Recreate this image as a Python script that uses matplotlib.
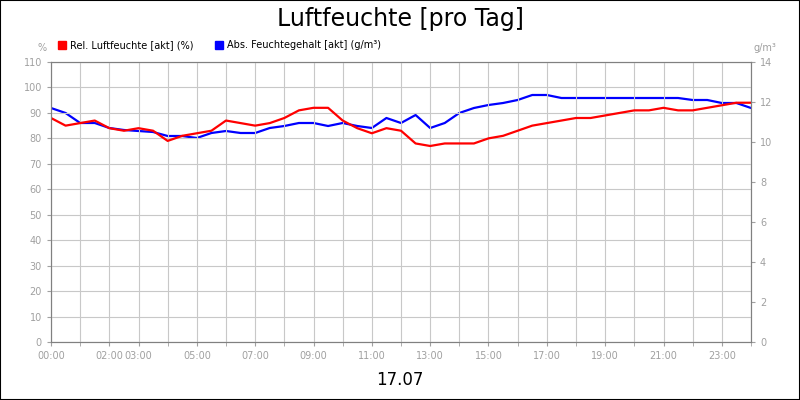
import matplotlib
matplotlib.use("Agg")
import matplotlib.pyplot as plt
from matplotlib.patches import Rectangle

hours = [i*0.5 for i in range(49)]
rel = [88,85,86,87,84,83,84,83,79,81,82,83,87,86,85,86,88,91,92,92,87,84,82,84,83,78,77,78,78,78,80,81,83,85,86,87,88,88,89,90,91,91,92,91,91,92,93,94,94]
absf = [11.7,11.45,10.95,10.95,10.7,10.6,10.55,10.5,10.3,10.3,10.2,10.45,10.55,10.45,10.45,10.7,10.8,10.95,10.95,10.8,10.95,10.8,10.7,11.2,10.95,11.35,10.7,10.95,11.45,11.7,11.85,11.95,12.1,12.35,12.35,12.2,12.2,12.2,12.2,12.2,12.2,12.2,12.2,12.2,12.1,12.1,11.95,11.95,11.7]
xticks = [0,2,3,5,7,9,11,13,15,17,19,21,23]
xlabels = ["00:00","02:00","03:00","05:00","07:00","09:00","11:00","13:00","15:00","17:00","19:00","21:00","23:00"]

fig = plt.figure(figsize=(8,4), dpi=100)
fig.patches.append(Rectangle((0,0),1,1,transform=fig.transFigure,fill=False,edgecolor='black',lw=1.5))
ax = fig.add_axes([51/800, 58/400, 700/800, 280/400])
ax.plot(hours, rel, color='#ff0000', lw=1.6)
ax.set_xlim(0,24); ax.set_ylim(0,110)
ax.set_yticks(range(0,111,10))
ax.set_xticks(xticks)
ax.set_xticklabels(xlabels)
ax.set_xticks(range(25), minor=True)
ax.grid(True, which='both', color='#c8c8c8', lw=0.8)
ax.tick_params(colors='#a0a0a0', labelsize=7, length=3)
ax.tick_params(which='minor', length=3, color='#a0a0a0')
for s in ax.spines.values(): s.set_color('#808080')
ax2 = ax.twinx()
ax2.plot(hours, absf, color='#0000ff', lw=1.6)
ax2.set_ylim(0,14); ax2.set_yticks(range(0,15,2))
ax2.tick_params(colors='#a0a0a0', labelsize=7, length=3)
for s in ax2.spines.values(): s.set_color('#808080')
ax.set_zorder(ax2.get_zorder()+1); ax.patch.set_visible(False)

fig.text(0.5, 0.953, "Luftfeuchte [pro Tag]", ha='center', va='center', fontsize=17)
fig.text(0.5, 0.05, "17.07", ha='center', va='center', fontsize=12)
fig.text(42/800, 1-48/400, "%", ha='center', va='center', fontsize=7, color='#a0a0a0')
fig.text(765/800, 1-48/400, "g/m³", ha='center', va='center', fontsize=7, color='#a0a0a0')
fig.patches.append(Rectangle((58/800,1-49/400),8/800,8/400,transform=fig.transFigure,color='#ff0000'))
fig.text(70/800, 1-45/400, "Rel. Luftfeuchte [akt] (%)", va='center', fontsize=7)
fig.patches.append(Rectangle((215/800,1-49/400),8/800,8/400,transform=fig.transFigure,color='#0000ff'))
fig.text(227/800, 1-45/400, "Abs. Feuchtegehalt [akt] (g/m³)", va='center', fontsize=7)
fig.savefig("out.png", dpi=100)
